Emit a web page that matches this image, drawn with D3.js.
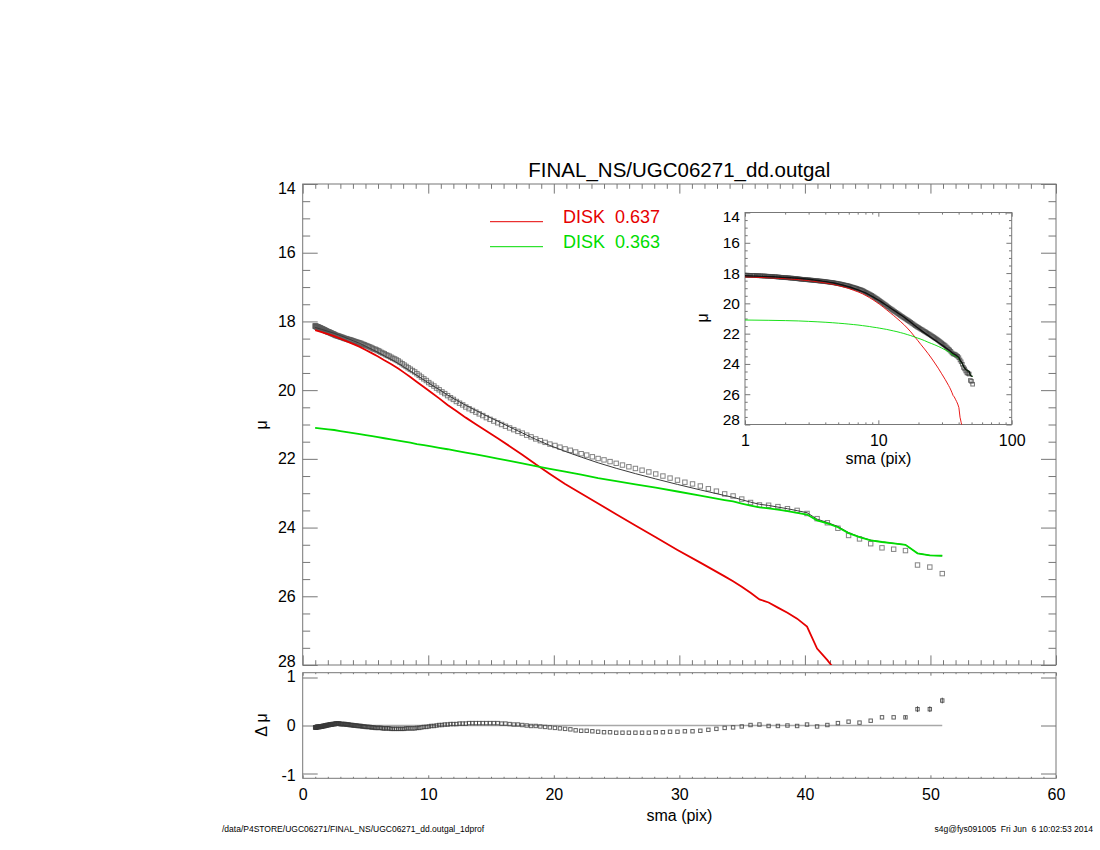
<!DOCTYPE html>
<html>
<head>
<meta charset="utf-8">
<script src="https://cdn.jsdelivr.net/npm/d3@7"></script>
<style>
  body { margin: 0; background: #fff; }
  svg { font-family: "Liberation Sans", Arial, Helvetica, sans-serif; }
</style>
</head>
<body>
<svg id="chart" width="1100" height="850"></svg>
<script>
// semi-major axis of each isophote (pix)
var sma = [
  0.99,1.01,1.03,1.05,1.07,1.09,1.11,1.14,1.16,1.18,
  1.21,1.23,1.26,1.28,1.31,1.33,1.36,1.39,1.41,1.44,
  1.47,1.50,1.53,1.56,1.59,1.62,1.66,1.69,1.72,1.76,
  1.79,1.83,1.87,1.90,1.94,1.98,2.02,2.06,2.10,2.14,
  2.19,2.23,2.27,2.32,2.37,2.41,2.46,2.51,2.56,2.61,
  2.66,2.72,2.77,2.83,2.88,2.94,3.00,3.06,3.12,3.18,
  3.25,3.31,3.38,3.45,3.52,3.59,3.66,3.73,3.81,3.88,
  3.96,4.04,4.12,4.20,4.29,4.37,4.46,4.55,4.64,4.73,
  4.83,4.92,5.02,5.12,5.22,5.33,5.44,5.54,5.65,5.77,
  5.88,6.00,6.12,6.24,6.37,6.50,6.63,6.76,6.89,7.03,
  7.17,7.32,7.46,7.61,7.76,7.92,8.08,8.24,8.40,8.57,
  8.74,8.92,9.10,9.28,9.46,9.65,9.85,10.04,10.24,10.45,
  10.66,10.87,11.09,11.31,11.54,11.77,12.00,12.24,12.49,12.74,
  12.99,13.25,13.52,13.79,14.06,14.34,14.63,14.92,15.22,15.53,
  15.84,16.15,16.48,16.81,17.14,17.49,17.84,18.19,18.56,18.93,
  19.31,19.69,20.09,20.49,20.90,21.32,21.74,22.18,22.62,23.07,
  23.53,24.00,24.48,24.97,25.47,25.98,26.50,27.03,27.57,28.12,
  28.69,29.26,29.85,30.44,31.05,31.67,32.31,32.95,33.61,34.28,
  34.97,35.67,36.38,37.11,37.85,38.61,39.38,40.17,40.97,41.79,
  42.63,43.48,44.35,45.24,46.14,47.07,48.01,48.97,49.95,50.94
];

// measured surface brightness (mag/arcsec^2)
var muObs = [
  18.13,18.14,18.14,18.14,18.15,18.15,18.15,18.16,18.16,18.16,
  18.17,18.17,18.17,18.18,18.18,18.19,18.19,18.19,18.20,18.20,
  18.21,18.21,18.22,18.22,18.23,18.23,18.24,18.24,18.25,18.26,
  18.26,18.27,18.28,18.28,18.29,18.30,18.30,18.31,18.31,18.32,
  18.33,18.33,18.34,18.35,18.36,18.36,18.37,18.38,18.39,18.40,
  18.41,18.41,18.42,18.43,18.43,18.44,18.45,18.46,18.46,18.47,
  18.48,18.49,18.50,18.50,18.51,18.52,18.53,18.53,18.54,18.55,
  18.56,18.57,18.58,18.59,18.60,18.61,18.62,18.63,18.64,18.66,
  18.67,18.68,18.70,18.71,18.73,18.74,18.76,18.78,18.80,18.81,
  18.83,18.85,18.87,18.90,18.92,18.94,18.97,18.99,19.01,19.04,
  19.07,19.09,19.12,19.15,19.19,19.23,19.27,19.31,19.35,19.39,
  19.43,19.47,19.52,19.57,19.62,19.67,19.72,19.78,19.83,19.88,
  19.94,19.99,20.05,20.10,20.16,20.22,20.27,20.33,20.38,20.43,
  20.49,20.54,20.59,20.64,20.69,20.74,20.80,20.85,20.90,20.95,
  21.00,21.05,21.10,21.15,21.20,21.25,21.31,21.36,21.42,21.47,
  21.52,21.57,21.61,21.66,21.71,21.75,21.80,21.85,21.89,21.94,
  21.99,22.03,22.08,22.13,22.18,22.23,22.28,22.33,22.38,22.44,
  22.50,22.56,22.62,22.68,22.73,22.79,22.87,22.94,23.02,23.08,
  23.17,23.27,23.34,23.35,23.39,23.45,23.50,23.59,23.74,23.86,
  24.02,24.23,24.33,24.47,24.59,24.63,24.67,25.09,25.15,25.34
];

// residual data - model
var dMu = [
  -0.04,-0.04,-0.04,-0.04,-0.04,-0.04,-0.03,-0.03,-0.03,-0.03,
  -0.03,-0.03,-0.03,-0.03,-0.03,-0.03,-0.03,-0.02,-0.02,-0.02,
  -0.02,-0.02,-0.02,-0.02,-0.01,-0.01,-0.01,-0.01,-0.01,-0.01,
  0.00,0.00,0.00,0.00,0.01,0.01,0.01,0.01,0.01,0.02,
  0.02,0.02,0.02,0.02,0.03,0.03,0.03,0.03,0.03,0.04,
  0.04,0.04,0.04,0.04,0.04,0.04,0.03,0.03,0.03,0.03,
  0.03,0.03,0.03,0.02,0.02,0.02,0.02,0.01,0.01,0.01,
  0.01,0.00,0.00,0.00,0.00,-0.01,-0.01,-0.01,-0.01,-0.02,
  -0.02,-0.02,-0.03,-0.03,-0.03,-0.03,-0.04,-0.04,-0.04,-0.05,
  -0.05,-0.05,-0.05,-0.05,-0.06,-0.06,-0.06,-0.06,-0.06,-0.07,
  -0.07,-0.07,-0.07,-0.07,-0.07,-0.07,-0.07,-0.06,-0.06,-0.06,
  -0.06,-0.06,-0.05,-0.05,-0.04,-0.03,-0.03,-0.02,-0.01,-0.01,
  0.00,0.01,0.01,0.02,0.02,0.03,0.03,0.03,0.04,0.04,
  0.04,0.05,0.05,0.05,0.05,0.05,0.05,0.05,0.05,0.05,
  0.04,0.04,0.03,0.02,0.02,0.01,0.00,-0.01,-0.01,-0.02,
  -0.03,-0.04,-0.05,-0.06,-0.07,-0.08,-0.10,-0.11,-0.11,-0.12,
  -0.13,-0.14,-0.14,-0.15,-0.15,-0.15,-0.15,-0.15,-0.15,-0.14,
  -0.14,-0.13,-0.13,-0.12,-0.12,-0.11,-0.09,-0.07,-0.05,-0.04,
  -0.02,0.01,0.02,-0.01,-0.01,0.00,-0.01,0.02,-0.02,0.01,
  0.05,0.08,0.06,0.10,0.17,0.17,0.17,0.34,0.34,0.52
];
// error bars on the outermost residual points (last four)
var dMuErrTail = [0.03, 0.06, 0.06, 0.06];

// model components
var modelSma = [0.99,1.51,2.02,2.51,3.00,3.52,4.04,4.55,5.02,5.54,6.00,6.50,7.03,7.61,8.08,
  8.57,9.10,9.65,10.24,10.87,11.54,12.24,12.99,13.79,14.63,15.53,16.48,17.49,18.56,19.69,
  20.90,22.18,23.53,24.97,26.50,28.12,29.85,31.67,33.61,34.28,34.97,35.67,36.38,37.11,37.85,
  38.61,39.38,40.17,40.97,41.79,42.63,43.48,44.35,45.24,46.14,47.07,48.01,48.97,49.95,50.94];
var muDisk1 = [18.25,18.31,18.37,18.43,18.50,18.58,18.66,18.74,18.83,18.93,19.02,19.13,19.24,19.37,19.49,
  19.62,19.76,19.91,20.07,20.24,20.43,20.61,20.80,20.99,21.19,21.40,21.63,21.88,22.16,22.44,
  22.73,23.01,23.30,23.61,23.94,24.28,24.65,25.02,25.42,25.56,25.72,25.90,26.09,26.18,26.33,
  26.48,26.65,26.88,27.52,27.86,28.25,28.90,29.60,30.40,31.20,32.00,32.80,33.60,34.40,35.20];
var muDisk2 = [21.10,21.12,21.14,21.16,21.19,21.22,21.25,21.28,21.31,21.34,21.37,21.40,21.43,21.47,21.50,
  21.53,21.57,21.60,21.64,21.68,21.72,21.77,21.82,21.87,21.93,21.99,22.06,22.13,22.21,22.29,
  22.37,22.46,22.56,22.65,22.74,22.84,22.95,23.07,23.20,23.24,23.30,23.36,23.41,23.44,23.48,
  23.52,23.57,23.62,23.79,23.88,23.99,24.16,24.28,24.37,24.42,24.46,24.50,24.75,24.81,24.82];

var legendNames = ["DISK\u00a0 0.637", "DISK\u00a0 0.363"];

var smaTicks = [0, 10, 20, 30, 40, 50, 60];
var muTicks = [14, 16, 18, 20, 22, 24, 26, 28];
var dMuTicks = [-1, 0, 1];
var logTicks = [1, 10, 100];

var titleText = "FINAL_NS/UGC06271_dd.outgal";
var leftFooter = "/data/P4STORE/UGC06271/FINAL_NS/UGC06271_dd.outgal_1dprof";
var rightFooter = "s4g@fys091005\u00a0 Fri Jun\u00a0 6 10:02:53 2014";

// total model = flux sum of the two disks
var muModel = modelSma.map(function(s, i){
  return -2.5 * Math.log10(Math.pow(10, -0.4 * muDisk1[i]) + Math.pow(10, -0.4 * muDisk2[i]));
});

var RED = "#e60000", GREEN = "#00dc00", AXIS = "#777";

var svg = d3.select("#chart");

var mainBox = {left: 302.7, right: 1056, top: 184, bottom: 665};
var resBox = {left: 302.7, right: 1056, top: 672.7, bottom: 778.3};
var insBox = {left: 745, right: 1011.7, top: 212.5, bottom: 424.5};

var x = d3.scaleLinear().domain([0, 60]).range([mainBox.left, mainBox.right]);
var y = d3.scaleLinear().domain([14, 28]).range([mainBox.top, mainBox.bottom]);
var yRes = d3.scaleLinear().domain([1.1, -1.1]).range([resBox.top, resBox.bottom]);
var xIn = d3.scaleLog().domain([1, 100]).range([insBox.left, insBox.right]);
var yIn = d3.scaleLinear().domain([14, 28]).range([insBox.top, insBox.bottom]);

var defs = svg.append("defs");
function clip(id, b){
  defs.append("clipPath").attr("id", id).append("rect")
    .attr("x", b.left).attr("y", b.top)
    .attr("width", b.right - b.left).attr("height", b.bottom - b.top);
}
clip("clipMain", mainBox); clip("clipRes", resBox); clip("clipIns", insBox);

// one set of ticks pointing into the frame, optional labels
function ticks(gen, pos, vals, len, labels, pad, fs){
  var a = gen.tickValues(vals).tickSize(-len).tickPadding(pad || 6)
    .tickFormat(labels ? function(d){ return String(d); } : "");
  var g = svg.append("g").attr("transform", pos).call(a)
    .attr("font-family", null).attr("font-size", fs || 16);
  g.select(".domain").remove();
  g.selectAll("line").attr("stroke", AXIS).attr("stroke-width", 1);
  g.selectAll("text").attr("fill", "#000");
  return g;
}
// IDL nudges the end labels of a y axis inside the frame
function nudgeEnds(g, lo, hi, d){
  g.selectAll("text").attr("y", function(v){ return v === lo ? d : (v === hi ? -d : 0); });
}
function frame(b){
  svg.append("rect").attr("x", b.left).attr("y", b.top)
    .attr("width", b.right - b.left).attr("height", b.bottom - b.top)
    .attr("fill", "none").attr("stroke", AXIS).attr("stroke-width", 1);
}

var minorX = d3.range(0, 61, 1).filter(function(d){ return d % 10 !== 0; });
var minorMu = d3.range(14, 28.01, 0.5).filter(function(d){ return d % 2 !== 0; });
var minorLog = [2,3,4,5,6,7,8,9,20,30,40,50,60,70,80,90];

function tr(a, b){ return "translate(" + a + "," + b + ")"; }

// ---------- main panel ----------
frame(mainBox);
ticks(d3.axisTop(x), tr(0, mainBox.top), smaTicks, 9.6, false);
ticks(d3.axisTop(x), tr(0, mainBox.top), minorX, 4.8, false);
ticks(d3.axisBottom(x), tr(0, mainBox.bottom), smaTicks, 9.6, false);
ticks(d3.axisBottom(x), tr(0, mainBox.bottom), minorX, 4.8, false);
nudgeEnds(ticks(d3.axisLeft(y), tr(mainBox.left, 0), muTicks, 15, true, 7), 14, 28, 4);
ticks(d3.axisLeft(y), tr(mainBox.left, 0), minorMu, 7.5, false);
ticks(d3.axisRight(y), tr(mainBox.right, 0), muTicks, 15, false);
ticks(d3.axisRight(y), tr(mainBox.right, 0), minorMu, 7.5, false);

var idx = d3.range(sma.length);
var midx = d3.range(modelSma.length);

var gMain = svg.append("g").attr("clip-path", "url(#clipMain)");
gMain.selectAll("rect.obs").data(idx).enter().append("rect").attr("class", "obs")
  .attr("x", function(i){ return x(sma[i]) - 2.2; })
  .attr("y", function(i){ return y(muObs[i]) - 2.2; })
  .attr("width", 4.4).attr("height", 4.4)
  .attr("fill", "none").attr("stroke", "#5a5a5a").attr("stroke-opacity", 0.75).attr("stroke-width", 1);

function modelLine(xs, ys, arr){
  return d3.line().x(function(i){ return xs(modelSma[i]); }).y(function(i){ return ys(arr[i]); })(midx);
}
gMain.append("path").attr("d", modelLine(x, y, muModel))
  .attr("fill", "none").attr("stroke", "#3a3a3a").attr("stroke-width", 1);
gMain.append("path").attr("d", modelLine(x, y, muDisk1))
  .attr("fill", "none").attr("stroke", RED).attr("stroke-width", 1.8);
gMain.append("path").attr("d", modelLine(x, y, muDisk2))
  .attr("fill", "none").attr("stroke", GREEN).attr("stroke-width", 1.8);

// legend
[RED, GREEN].forEach(function(c, i){
  var ly = 221.7 + i * 25;
  svg.append("line").attr("x1", 490).attr("x2", 543).attr("y1", ly).attr("y2", ly)
    .attr("stroke", c).attr("stroke-width", 1);
  svg.append("text").attr("x", 563).attr("y", ly + 1.5).attr("font-size", 18)
    .attr("fill", c).text(legendNames[i]);
});

svg.append("text").attr("x", (mainBox.left + mainBox.right) / 2).attr("y", 177)
  .attr("text-anchor", "middle").attr("font-size", 20.5).text(titleText);

svg.append("text").attr("transform", "translate(267,425) rotate(-90)")
  .attr("text-anchor", "middle").attr("font-size", 16).text("\u03bc");

// ---------- residual panel ----------
frame(resBox);
ticks(d3.axisTop(x), tr(0, resBox.top), smaTicks, 3, false);
ticks(d3.axisTop(x), tr(0, resBox.top), minorX, 1.5, false);
ticks(d3.axisBottom(x), tr(0, resBox.bottom), smaTicks, 3, true, 10);
ticks(d3.axisBottom(x), tr(0, resBox.bottom), minorX, 1.5, false);
nudgeEnds(ticks(d3.axisLeft(yRes), tr(resBox.left, 0), dMuTicks, 15, true, 7), 1, -1, -1.5);
ticks(d3.axisRight(yRes), tr(resBox.right, 0), dMuTicks, 15, false);

var gRes = svg.append("g").attr("clip-path", "url(#clipRes)");
gRes.append("line").attr("x1", x(sma[0])).attr("x2", x(sma[sma.length - 1]))
  .attr("y1", yRes(0)).attr("y2", yRes(0)).attr("stroke", "#a8a8a8").attr("stroke-width", 1.6);
var nTail = dMuErrTail.length;
gRes.selectAll("line.err").data(d3.range(nTail)).enter().append("line").attr("class", "err")
  .attr("x1", function(j){ return x(sma[sma.length - nTail + j]); })
  .attr("x2", function(j){ return x(sma[sma.length - nTail + j]); })
  .attr("y1", function(j){ return yRes(dMu[sma.length - nTail + j] - dMuErrTail[j]); })
  .attr("y2", function(j){ return yRes(dMu[sma.length - nTail + j] + dMuErrTail[j]); })
  .attr("stroke", "#555").attr("stroke-width", 1);
gRes.selectAll("rect.res").data(idx).enter().append("rect").attr("class", "res")
  .attr("x", function(i){ return x(sma[i]) - 1.7; })
  .attr("y", function(i){ return yRes(dMu[i]) - 1.7; })
  .attr("width", 3.4).attr("height", 3.4)
  .attr("fill", "none").attr("stroke", "#3a3a3a").attr("stroke-opacity", 0.8).attr("stroke-width", 1);

svg.append("text").attr("x", (resBox.left + resBox.right) / 2).attr("y", 821)
  .attr("text-anchor", "middle").attr("font-size", 16).text("sma (pix)");
svg.append("text").attr("transform", "translate(267,725) rotate(-90)")
  .attr("text-anchor", "middle").attr("font-size", 16).text("\u0394 \u03bc");

// ---------- inset (log sma) ----------
frame(insBox);
ticks(d3.axisTop(xIn), tr(0, insBox.top), logTicks, 4.2, false);
ticks(d3.axisTop(xIn), tr(0, insBox.top), minorLog, 2.1, false);
ticks(d3.axisBottom(xIn), tr(0, insBox.bottom), logTicks, 4.2, true, 10, 16);
ticks(d3.axisBottom(xIn), tr(0, insBox.bottom), minorLog, 2.1, false);
nudgeEnds(ticks(d3.axisLeft(yIn), tr(insBox.left, 0), muTicks, 5.3, true, 5, 15.5), 14, 28, 4.5);
ticks(d3.axisLeft(yIn), tr(insBox.left, 0), minorMu, 2.7, false);
ticks(d3.axisRight(yIn), tr(insBox.right, 0), muTicks, 5.3, false);
ticks(d3.axisRight(yIn), tr(insBox.right, 0), minorMu, 2.7, false);

var gIns = svg.append("g").attr("clip-path", "url(#clipIns)");
gIns.selectAll("rect.ins").data(idx).enter().append("rect").attr("class", "ins")
  .attr("x", function(i){ return xIn(sma[i]) - 1.8; })
  .attr("y", function(i){ return yIn(muObs[i]) - 1.8; })
  .attr("width", 3.6).attr("height", 3.6)
  .attr("fill", "none").attr("stroke", "#444").attr("stroke-opacity", 0.75).attr("stroke-width", 1);
gIns.append("path").attr("d", modelLine(xIn, yIn, muDisk1))
  .attr("fill", "none").attr("stroke", RED).attr("stroke-width", 0.9);
gIns.append("path").attr("d", modelLine(xIn, yIn, muDisk2))
  .attr("fill", "none").attr("stroke", GREEN).attr("stroke-width", 0.9);
gIns.append("path").attr("d", modelLine(xIn, yIn, muModel))
  .attr("fill", "none").attr("stroke", "#111").attr("stroke-width", 1.4);

svg.append("text").attr("x", (insBox.left + insBox.right) / 2).attr("y", 464)
  .attr("text-anchor", "middle").attr("font-size", 16).text("sma (pix)");
svg.append("text").attr("transform", "translate(708,318) rotate(-90)")
  .attr("text-anchor", "middle").attr("font-size", 16).text("\u03bc");

// ---------- footers ----------
svg.append("text").attr("x", 222).attr("y", 832).attr("font-size", 8.5).text(leftFooter);
svg.append("text").attr("x", 1093).attr("y", 832).attr("text-anchor", "end")
  .attr("font-size", 8.5).text(rightFooter);
</script>
</body>
</html>
